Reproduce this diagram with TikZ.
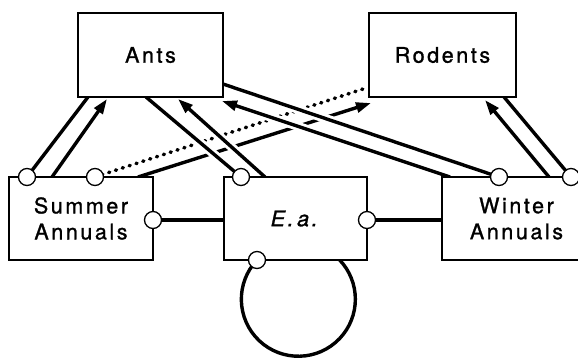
\documentclass[tikz,border=0pt]{standalone}
\usepackage{fontspec}
\newfontfamily\lbl{TeX Gyre Heros}[LetterSpace=12,FakeBold=1.2]
\usetikzlibrary{arrows.meta}
\begin{document}
\begin{tikzpicture}[x=1pt,y=-1pt,
  box/.style={draw,line width=1.6pt,fill=white,inner sep=0pt,minimum height=84pt,align=center,font=\lbl\fontsize{21.5}{26}\selectfont},
  port/.style={circle,draw,line width=1.3pt,fill=white,minimum size=17pt,inner sep=0pt},
  link/.style={line width=3.4pt},
  over/.style={link,preaction={draw=white,line width=9pt}},
  arr/.style={-{Triangle[length=15pt,width=10pt]}},
  dots/.style={line width=3.6pt,line cap=round,dash pattern=on 1pt off 6.2pt}]
\useasboundingbox (0,0) rectangle (578,357);
% anchor coordinates
\coordinate (a1) at (88,97);
\coordinate (a2s) at (52,177);  \coordinate (a2) at (107,99);
\coordinate (r3) at (366,88);
\coordinate (r4s) at (138,177); \coordinate (r4) at (371,103);
\coordinate (a5) at (146,97);
\coordinate (a6s) at (265,177); \coordinate (a6) at (178,99);
\coordinate (a7) at (223,84);
\coordinate (a8s) at (450,177); \coordinate (a8) at (222,101);
\coordinate (r9) at (504,97);
\coordinate (r10s) at (549,177); \coordinate (r10) at (485,100);
\coordinate (eL) at (224,220);
\coordinate (wL) at (442,220);
% ports (positions)
\coordinate (s1c) at (27,177);
\coordinate (s2c) at (95,177);
\coordinate (s3c) at (153,220);
\coordinate (e1c) at (241,177);
\coordinate (e2c) at (367,220);
\coordinate (e3c) at (257,260);
\coordinate (w1c) at (499,177);
\coordinate (w2c) at (571,177);
% lines underneath
\draw[dots] (s2c) -- (r3);
\draw[link,arr] (r4s) -- (r4);
% lines on top
\draw[over] (e1c) -- (a5);
\draw[over,arr] (a6s) -- (a6);
\draw[over] (w1c) -- (a7);
\draw[over,arr] (a8s) -- (a8);
\draw[link] (s1c) -- (a1);
\draw[link,arr] (a2s) -- (a2);
\draw[link] (w2c) -- (r9);
\draw[link,arr] (r10s) -- (r10);
\draw[link] (s3c) -- (eL);
\draw[link] (e2c) -- (wL);
% self loop
\draw[link] (e3c) arc[start angle=223.5,end angle=-43.5,radius=57];
% boxes
\node[box,minimum width=145pt] (ants) at (150.5,55) {Ants};
\node[box,minimum width=147pt] (rodents) at (442.5,55) {Rodents};
\node[box,minimum width=144pt,minimum height=83pt] (summer) at (81,218.5) {Summer\\Annuals};
\node[box,minimum width=143pt,minimum height=83pt] (ea) at (295.5,218.5) {\textit{E.\,a.}};
\node[box,minimum width=149pt,minimum height=83pt] (winter) at (516.5,218.5) {Winter\\Annuals};
% ports
\node[port] (s1) at (s1c) {};
\node[port] (s2) at (s2c) {};
\node[port] (s3) at (s3c) {};
\node[port] (e1) at (e1c) {};
\node[port] (e2) at (e2c) {};
\node[port] (e3) at (e3c) {};
\node[port] (w1) at (w1c) {};
\node[port] (w2) at (w2c) {};
\end{tikzpicture}
\end{document}
